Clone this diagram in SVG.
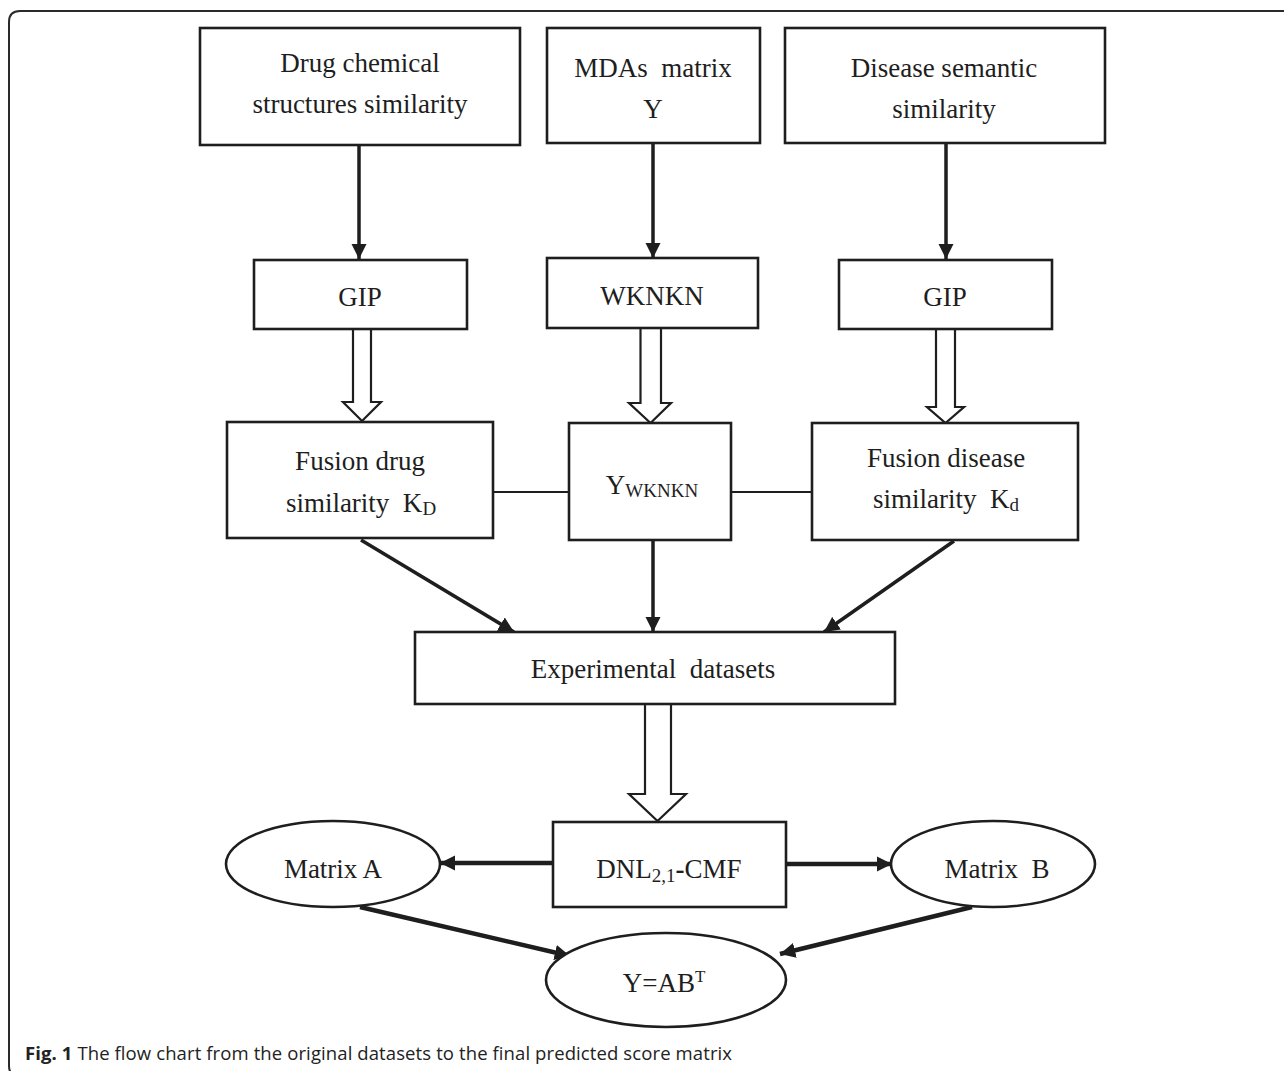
<svg xmlns="http://www.w3.org/2000/svg" width="1284" height="1071" viewBox="0 0 1284 1071">
<defs>
<style>
.box{fill:#fff;stroke:#1e1e1e;stroke-width:2.6}
.ell{fill:#fff;stroke:#1e1e1e;stroke-width:2.6}
.t{font-family:"Liberation Serif","Times New Roman",serif;font-size:27px;fill:#1e1e1e;text-anchor:middle}
.s{font-size:19px}
.arr{fill:none;stroke:#1e1e1e;stroke-width:3.5}
.arrb{fill:none;stroke:#1e1e1e;stroke-width:4.5}
.hol{fill:#fff;stroke:#1e1e1e;stroke-width:2.2;stroke-linejoin:miter}
.thin{fill:none;stroke:#1e1e1e;stroke-width:2}
.cap{font-family:"Open Sans","Noto Sans","Liberation Sans",sans-serif;font-size:18.5px;fill:#222}
</style>
<marker id="ah" viewBox="0 0 10 10" refX="10" refY="5" markerWidth="4.4" markerHeight="4.4" markerUnits="strokeWidth" orient="auto">
<path d="M0,0 L10,5 L0,10 z" fill="#1e1e1e"/>
</marker>
<marker id="ahb" viewBox="0 0 10 10" refX="10" refY="5" markerWidth="3.4" markerHeight="3.6" markerUnits="strokeWidth" orient="auto">
<path d="M0,0 L10,5 L0,10 z" fill="#1e1e1e"/>
</marker>
</defs>
<rect width="1284" height="1071" fill="#fff"/>
<path d="M1300,11 H20 Q9,11 9,22 V1066 Q9,1076 20,1076 H1300" fill="none" stroke="#2a2a2a" stroke-width="2"/>

<g id="connectors">
<line class="arr" x1="359" y1="145" x2="359" y2="259" marker-end="url(#ah)"/>
<line class="arr" x1="653" y1="143" x2="653" y2="258" marker-end="url(#ah)"/>
<line class="arr" x1="946" y1="143" x2="946" y2="259" marker-end="url(#ah)"/>
<path class="hol" d="M353,329 H371 V402 H381 L362,421 L343,402 H353 Z"/>
<path class="hol" d="M640.5,328 H661 V403 H671 L650.5,423 L629,403 H640.5 Z"/>
<path class="hol" d="M936,329 H955 V407 H964 L945.5,423 L927,407 H936 Z"/>
<line class="thin" x1="493" y1="492" x2="569" y2="492"/>
<line class="thin" x1="731" y1="492" x2="812" y2="492"/>
<line class="arr" x1="361" y1="540" x2="514" y2="632" marker-end="url(#ah)"/>
<line class="arr" x1="653" y1="540" x2="653" y2="632" marker-end="url(#ah)"/>
<line class="arr" x1="954" y1="541" x2="824" y2="632" marker-end="url(#ah)"/>
<path class="hol" d="M645,704 H671 V794 H686 L657.5,821 L629,794 H645 Z"/>
<line class="arrb" x1="553" y1="863" x2="440" y2="863" marker-end="url(#ahb)"/>
<line class="arrb" x1="786" y1="864" x2="892" y2="864" marker-end="url(#ahb)"/>
<line class="arrb" x1="360" y1="907" x2="570" y2="956" marker-end="url(#ahb)"/>
<line class="arrb" x1="972" y1="907" x2="780" y2="954" marker-end="url(#ahb)"/>
</g>

<g id="n-drug-chem">
<rect class="box" x="200" y="28" width="320" height="117"/>
<text class="t" x="360" y="72">Drug chemical</text>
<text class="t" x="360" y="113">structures similarity</text>
</g>
<g id="n-mdas">
<rect class="box" x="547" y="28" width="213" height="115"/>
<text class="t" x="653" y="77" xml:space="preserve">MDAs  matrix</text>
<text class="t" x="653" y="118">Y</text>
</g>
<g id="n-dis-sem">
<rect class="box" x="785" y="28" width="320" height="115"/>
<text class="t" x="944" y="77">Disease semantic</text>
<text class="t" x="944" y="118">similarity</text>
</g>
<g id="n-gip1">
<rect class="box" x="254" y="260" width="213" height="69"/>
<text class="t" x="360" y="306">GIP</text>
</g>
<g id="n-wknkn">
<rect class="box" x="547" y="258" width="211" height="70"/>
<text class="t" x="652" y="305">WKNKN</text>
</g>
<g id="n-gip2">
<rect class="box" x="839" y="260" width="213" height="69"/>
<text class="t" x="945" y="306">GIP</text>
</g>
<g id="n-fusion-drug">
<rect class="box" x="227" y="422" width="266" height="116"/>
<text class="t" x="360" y="470">Fusion drug</text>
<text class="t" x="361" y="512" xml:space="preserve">similarity  K<tspan class="s" dy="3">D</tspan></text>
</g>
<g id="n-ywknkn">
<rect class="box" x="569" y="423" width="162" height="117"/>
<text class="t" x="652" y="494">Y<tspan class="s" dy="3">WKNKN</tspan></text>
</g>
<g id="n-fusion-dis">
<rect class="box" x="812" y="423" width="266" height="117"/>
<text class="t" x="946" y="467">Fusion disease</text>
<text class="t" x="946" y="508" xml:space="preserve">similarity  K<tspan class="s" dy="3">d</tspan></text>
</g>
<g id="n-exp">
<rect class="box" x="415" y="632" width="480" height="72"/>
<text class="t" x="653" y="678" xml:space="preserve">Experimental  datasets</text>
</g>
<g id="n-dnl">
<rect class="box" x="553" y="822" width="233" height="85"/>
<text class="t" x="669" y="878">DNL<tspan class="s" dy="4">2,1</tspan><tspan dy="-4" font-weight="bold">-</tspan><tspan>CMF</tspan></text>
</g>
<g id="n-matrix-a">
<ellipse class="ell" cx="333" cy="864" rx="107" ry="43"/>
<text class="t" x="333" y="878">Matrix A</text>
</g>
<g id="n-matrix-b">
<ellipse class="ell" cx="993" cy="864" rx="102" ry="43"/>
<text class="t" x="997" y="878" xml:space="preserve">Matrix  B</text>
</g>
<g id="n-y">
<ellipse class="ell" cx="666" cy="980" rx="120" ry="47"/>
<text class="t" x="664" y="992">Y=AB<tspan font-size="17px" dy="-10">T</tspan></text>
</g>

<text class="cap" x="25" y="1060" textLength="707" lengthAdjust="spacing"><tspan font-weight="bold">Fig. 1</tspan> The flow chart from the original datasets to the final predicted score matrix</text>
</svg>
